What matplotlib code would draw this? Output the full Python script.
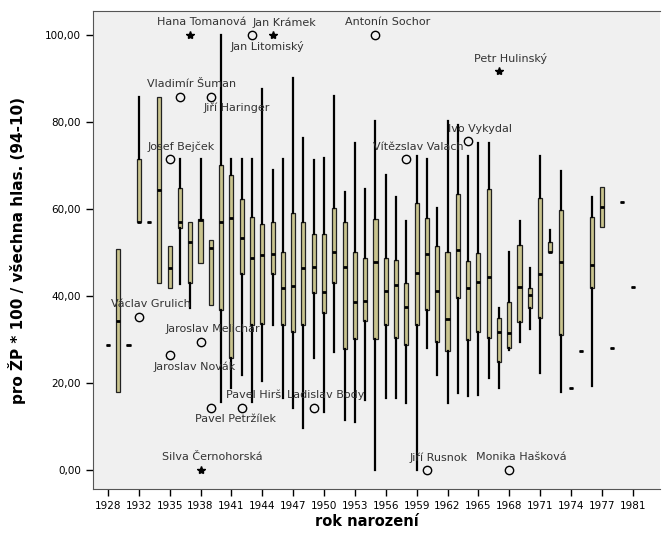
import numpy as np
import matplotlib
matplotlib.use('Agg')
import matplotlib.pyplot as plt

# birth years on the categorical axis (only every 3rd is labelled)
years = [1928, 1929, 1931, 1932] + list(range(1933, 1978)) + [1978, 1980, 1981]

# five-number summaries per year: low whisker, q1, median, q3, high whisker
whislo = [28.6, 18.0, 28.6, 57.1, 57.1, 42.9, 41.8, 42.7, 37.2, 47.5,
          37.9, 15.7, 18.9, 21.8, 15.7, 20.5, 33.3, 16.5, 14.2, 9.7,
          25.8, 13.2, 27.2, 11.5, 11.0, 16.1, 0.0, 16.6, 16.6, 15.3,
          0.0, 28.0, 21.8, 15.3, 17.6, 16.9, 17.2, 21.1, 18.8, 27.6,
          29.4, 32.4, 22.2, 50.0, 17.8, 18.9, 27.4, 19.3, 55.8, 28.0,
          61.5, 42.0]
q1 = [28.6, 18.0, 28.6, 57.1, 57.1, 42.9, 41.8, 55.7, 42.9, 47.5,
      37.9, 36.8, 25.7, 45.0, 33.3, 33.5, 45.0, 33.3, 31.7, 33.3,
      40.6, 36.0, 42.9, 27.8, 30.1, 34.3, 30.1, 33.3, 30.3, 28.7,
      33.3, 36.8, 29.3, 27.4, 39.6, 29.9, 31.8, 30.3, 24.8, 28.1,
      34.1, 37.2, 34.9, 50.0, 31.0, 18.9, 27.4, 41.9, 55.8, 28.0,
      61.5, 42.0]
med = [28.6, 34.3, 28.6, 57.1, 57.1, 64.4, 46.5, 57.1, 52.3, 57.5,
       51.0, 57.1, 58.0, 53.2, 48.8, 49.3, 49.6, 41.8, 42.3, 46.5,
       46.7, 41.0, 50.0, 46.6, 38.7, 38.9, 47.7, 41.2, 42.5, 37.5,
       45.2, 49.7, 41.2, 34.6, 50.6, 41.9, 43.3, 44.3, 31.6, 31.4,
       42.1, 40.1, 45.0, 50.0, 47.7, 18.9, 27.4, 47.0, 60.5, 28.0,
       61.5, 42.0]
q3 = [28.6, 50.7, 28.6, 71.4, 57.1, 85.8, 51.5, 64.7, 57.1, 57.6,
      52.9, 70.0, 67.7, 62.2, 58.2, 56.5, 57.1, 50.0, 59.0, 57.1,
      54.2, 54.2, 60.3, 57.1, 50.0, 48.8, 57.6, 48.8, 48.3, 42.9,
      61.3, 57.9, 51.5, 50.0, 63.4, 48.1, 49.8, 64.5, 34.9, 38.5,
      51.7, 41.9, 62.5, 52.5, 59.8, 18.9, 27.4, 58.2, 65.1, 28.0,
      61.5, 42.0]
whishi = [28.6, 50.7, 28.6, 85.8, 57.1, 85.8, 51.5, 71.4, 57.1, 71.4,
          52.9, 100.0, 71.4, 71.4, 71.4, 87.5, 69.0, 71.4, 90.0, 76.4,
          71.3, 71.6, 86.0, 63.8, 75.1, 64.6, 80.1, 67.8, 62.8, 57.2,
          72.2, 71.4, 60.1, 80.1, 79.3, 72.2, 75.1, 75.1, 37.2, 50.0,
          57.2, 46.4, 72.2, 55.2, 68.6, 18.9, 27.4, 62.8, 65.1, 28.0,
          61.5, 42.0]

# labelled outliers ('o') and extremes ('*')
out_years = [1932, 1935, 1935, 1936, 1937, 1938, 1938, 1939, 1939, 1942,
             1943, 1945, 1949, 1955, 1958, 1960, 1964, 1967, 1968]
out_values = [35.2, 71.4, 26.3, 85.8, 100.0, 29.5, 0.0, 85.8, 14.3, 14.3,
              100.0, 100.0, 14.3, 100.0, 71.4, 0.0, 75.6, 91.6, 0.0]
out_names = ['Václav Grulich', 'Josef Bejček', 'Jaroslav Novák', 'Vladimír Šuman',
             'Hana Tomanová', 'Jaroslav Melichar', 'Silva Černohorská', 'Jiří Haringer',
             'Pavel Petržílek', 'Pavel Hirš', 'Jan Litomiský', 'Jan Krámek',
             'Ladislav Body', 'Antonín Sochor', 'Vítězslav Valach', 'Jiří Rusnok',
             'Ivo Vykydal', 'Petr Hulinský', 'Monika Hašková']
out_markers = ['o', 'o', 'o', 'o', '*', 'o', '*', 'o', 'o', 'o',
               'o', '*', 'o', 'o', 'o', 'o', 'o', '*', 'o']

# label offsets from the point, in pixels (dx, dy up)
label_offsets = {'Jaroslav Novák': (25, -11), 'Jiří Haringer': (26, -11),
                 'Pavel Petržílek': (25, -11), 'Jan Litomiský': (15, -12)}

fig = plt.figure(figsize=(6.62, 5.37), dpi=100)
ax = fig.add_axes([93 / 662, 1 - 489 / 537, (660 - 93) / 662, (489 - 11) / 537])
ax.set_facecolor('#f0f0f0')

pos = np.arange(len(years))
stats = []
for i in range(len(years)):
    stats.append(dict(whislo=whislo[i], q1=q1[i], med=med[i], q3=q3[i], whishi=whishi[i], fliers=[]))

ax.bxp(stats, positions=pos, widths=0.4, patch_artist=True, showcaps=False,
       boxprops=dict(facecolor='#c9c48e', edgecolor='#222222', linewidth=0.9),
       whiskerprops=dict(color='black', linewidth=1.6),
       medianprops=dict(color='black', linewidth=2.0))

# outliers and their labels
for y, v, name, m in zip(out_years, out_values, out_names, out_markers):
    x = years.index(y)
    if m == 'o':
        ax.plot(x, v, 'o', mfc='none', mec='black', ms=6, mew=1.0)
    else:
        ax.plot(x, v, '*', color='black', ms=6)
    dx, dy = label_offsets.get(name, (12, 12.5))
    ax.annotate(name, (x, v), xytext=(dx * 0.72, dy * 0.72), textcoords='offset points',
                ha='center', va='center', fontsize=8, color='#333333')

ax.set_xlim(-1.45, 53.65)
ax.set_ylim(-4.4, 105.5)

ax.set_xticks(pos[::3])
ax.set_xticklabels([str(y) for y in years[::3]], fontsize=7.5)
ax.set_yticks([0, 20, 40, 60, 80, 100])
ax.set_yticklabels(['0,00', '20,00', '40,00', '60,00', '80,00', '100,00'], fontsize=7.5)
ax.tick_params(direction='out', length=5, width=1, color='black')

ax.set_xlabel('rok narození', fontsize=10.5, fontweight='bold')
ax.set_ylabel('pro ŽP * 100 / všechna hlas. (94-10)', fontsize=11, fontweight='bold')
ax.xaxis.set_label_coords((367 - 93) / 567, -(514 - 489) / 478)
ax.yaxis.set_label_coords(-(93 - 26) / 567, 0.5)

for s in ['top', 'left', 'bottom']:
    ax.spines[s].set_color('#555555')
ax.spines['right'].set_visible(False)

fig.savefig('out.png', dpi=100)
